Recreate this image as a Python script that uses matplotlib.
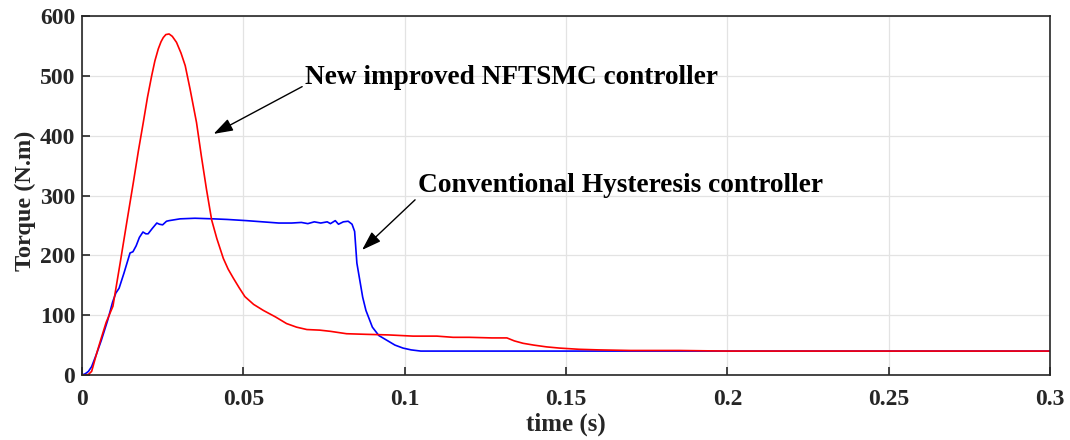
import numpy as np
import matplotlib
matplotlib.use('Agg')
import matplotlib.pyplot as plt

# Red curve: new improved NFTSMC controller
t_red = [0, 0.001, 0.002, 0.003, 0.0046, 0.006, 0.0075, 0.0096, 0.0118, 0.01385,
         0.0159, 0.0175, 0.019, 0.0203, 0.0216, 0.0226, 0.02365, 0.0245, 0.0252,
         0.026, 0.027, 0.028, 0.0293, 0.0307, 0.032, 0.0335, 0.0355, 0.037, 0.0386,
         0.0402, 0.0418, 0.0438, 0.0453, 0.0469, 0.0487, 0.0505, 0.0532, 0.0562,
         0.060, 0.0634, 0.0665, 0.0697, 0.0737, 0.077, 0.082, 0.088, 0.095,
         0.1026, 0.110, 0.115, 0.120, 0.127, 0.1317, 0.134, 0.1367, 0.140, 0.144,
         0.148, 0.154, 0.160, 0.170, 0.185, 0.200, 0.215, 0.230, 0.250, 0.270, 0.285, 0.300]
v_red = [0, 0, 1, 6, 37, 62, 88, 115, 186, 254,
         321, 375, 422, 464, 500, 525, 545, 557, 564,
         569, 570, 566, 556, 538, 517, 478, 422, 366, 310,
         259, 228, 195, 177, 162, 146, 131, 118, 108,
         97, 86, 80, 76, 75, 73, 69, 68, 67,
         65, 65, 63, 63, 62, 62, 57, 53, 50, 47,
         45, 43, 42, 41, 41, 40, 40, 40, 40, 40, 40, 40]

# Blue curve: conventional hysteresis controller
t_blue = [0, 0.001, 0.002, 0.003, 0.0045, 0.006, 0.008, 0.0095, 0.0105, 0.0115,
          0.013, 0.0149, 0.0158, 0.0168, 0.0178, 0.0189, 0.0198, 0.0205, 0.0218,
          0.0232, 0.024, 0.025, 0.0262, 0.027, 0.0304, 0.035, 0.0407, 0.045, 0.051,
          0.056, 0.061, 0.065, 0.068, 0.070, 0.072, 0.074, 0.076, 0.077, 0.0785,
          0.0795, 0.081, 0.0825, 0.0837, 0.0845, 0.0852, 0.087, 0.088, 0.090, 0.092,
          0.0945, 0.097, 0.0995, 0.102, 0.105, 0.110, 0.130, 0.160, 0.200, 0.250, 0.300]
v_blue = [0, 2, 6, 14, 35, 58, 92, 122, 137, 145,
          170, 204, 206, 216, 230, 239, 236, 236, 245,
          254, 252, 251, 257, 258, 261, 262, 261, 260, 258,
          256, 254, 254, 255, 253, 256, 254, 256, 253, 258,
          252, 256, 257, 252, 240, 187, 130, 108, 80, 66,
          58, 50, 45, 42, 40, 40, 40, 40, 40, 40, 40]

x_ticks = [0, 0.05, 0.1, 0.15, 0.2, 0.25, 0.3]
x_tick_labels = ['0', '0.05', '0.1', '0.15', '0.2', '0.25', '0.3']
y_ticks = [0, 100, 200, 300, 400, 500, 600]

plt.rcParams['font.family'] = ['Liberation Serif', 'DejaVu Serif']
plt.rcParams['font.weight'] = 'bold'

fig = plt.figure(figsize=(10.7, 4.4), dpi=100)
ax = fig.add_axes([0.0766, 0.1477, 0.9047, 0.8159])

ax.plot(t_blue, v_blue, color='#0000ff', lw=1.2)
ax.plot(t_red, v_red, color='#ff0000', lw=1.2)

ax.set_xlim(0, 0.3)
ax.set_ylim(0, 600)
ax.set_xticks(x_ticks)
ax.set_xticklabels(x_tick_labels)
ax.set_yticks(y_ticks)
ax.grid(True, color='#e3e3e3', lw=0.9)
ax.set_axisbelow(True)
ax.tick_params(direction='in', length=6, width=1.2, colors='#262626',
               labelsize=17, pad=10)
ax.tick_params(axis='y', pad=5)
for lbl in ax.get_xticklabels() + ax.get_yticklabels():
    lbl.set_fontweight('bold')
for s in ax.spines.values():
    s.set_color('#262626')
    s.set_linewidth(1.2)

ax.set_xlabel('time (s)', fontsize=18, fontweight='bold', color='#262626', labelpad=2)
ax.set_ylabel('Torque (N.m)', fontsize=17.5, fontweight='bold', color='#262626', labelpad=1)
ax.yaxis.set_label_coords(-0.047, 0.485)

head = '-|>,head_length=0.6,head_width=0.2'
ax.annotate('New improved NFTSMC controller', xy=(0.0408, 403), xytext=(0.0691, 497),
            fontsize=19.6, fontweight='bold', color='black', va='center', ha='left',
            arrowprops=dict(arrowstyle=head, color='black', lw=1.0,
                            shrinkA=0, shrinkB=0, relpos=(0, 0.2)))
ax.annotate('Conventional Hysteresis controller', xy=(0.0868, 209), xytext=(0.1041, 316),
            fontsize=19.7, fontweight='bold', color='black', va='center', ha='left',
            arrowprops=dict(arrowstyle=head, color='black', lw=1.0,
                            shrinkA=0, shrinkB=0, relpos=(0, 0.05)))

fig.savefig('out.png', dpi=100)
